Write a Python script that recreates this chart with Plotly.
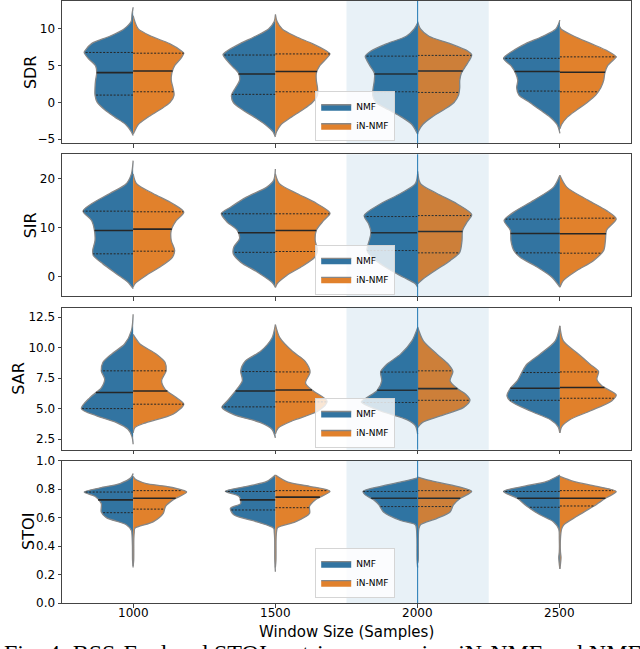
import numpy as np
import plotly.graph_objects as go
from plotly.subplots import make_subplots

WINDOWS = ["1000", "1500", "2000", "2500"]
METRICS = ["SDR", "SIR", "SAR", "STOI"]
METHODS = ["NMF", "iN-NMF"]

# violin outlines: (metric value, relative density)
SDR_NMF = [
    [(12.95, 0), (12, 0.02), (11, 0.035), (10, 0.16), (9, 0.41), (8, 0.73), (7, 0.85), (6.8, 0.86), (6, 0.79),
     (5, 0.66), (4, 0.64), (3, 0.66), (2, 0.67), (1, 0.67), (0, 0.63), (-1, 0.5), (-2, 0.32), (-3, 0.13),
     (-4, 0.03), (-4.5, 0)],
    [(11.9, 0), (11, 0.02), (10, 0.12), (9, 0.35), (8, 0.62), (7, 0.85), (6.5, 0.92), (6, 0.88), (5, 0.77),
     (4, 0.65), (3, 0.63), (2, 0.7), (1, 0.77), (0, 0.74), (-1, 0.58), (-2, 0.37), (-3, 0.18), (-4, 0.04),
     (-4.7, 0)],
    [(10.8, 0), (10, 0.06), (9, 0.2), (8, 0.54), (7, 0.82), (6.3, 0.92), (6, 0.91), (5, 0.84), (4, 0.76),
     (3, 0.76), (2, 0.78), (1, 0.79), (0, 0.73), (-1, 0.51), (-2, 0.28), (-3, 0.1), (-4, 0.02), (-4.3, 0)],
    [(11.2, 0), (10, 0.07), (9, 0.3), (8, 0.6), (7, 0.83), (6, 0.99), (5, 0.86), (4, 0.78), (3, 0.74),
     (2, 0.76), (1, 0.72), (0, 0.53), (-1, 0.35), (-2, 0.17), (-3, 0.05), (-4, 0.005), (-4.2, 0)],
]
SDR_INNMF = [
    [(11.8, 0), (11, 0.03), (10, 0.09), (9, 0.32), (8, 0.64), (7, 0.85), (6.7, 0.89), (6, 0.84), (5, 0.73),
     (4, 0.68), (3, 0.67), (2, 0.7), (1, 0.72), (0, 0.65), (-1, 0.47), (-2, 0.26), (-3, 0.09), (-4, 0.02),
     (-4.3, 0)],
    [(12, 0), (11, 0.03), (10, 0.12), (9, 0.35), (8, 0.65), (7, 0.9), (6.6, 0.96), (6, 0.9), (5, 0.78),
     (4, 0.72), (3, 0.72), (2, 0.74), (1, 0.74), (0, 0.65), (-1, 0.48), (-2, 0.28), (-3, 0.1), (-4, 0.02),
     (-4.5, 0)],
    [(11, 0), (10, 0.05), (9, 0.2), (8, 0.57), (7, 0.88), (6.5, 0.95), (6, 0.93), (5, 0.85), (4, 0.77),
     (3, 0.74), (2, 0.74), (1, 0.72), (0, 0.64), (-1, 0.46), (-2, 0.25), (-3, 0.09), (-4, 0.01), (-4.3, 0)],
    [(10.3, 0), (10, 0.02), (9, 0.25), (8, 0.55), (7, 0.84), (6.2, 0.99), (6, 0.97), (5, 0.84), (4, 0.79),
     (3, 0.77), (2, 0.72), (1, 0.63), (0, 0.48), (-1, 0.3), (-2, 0.13), (-3, 0.03), (-3.6, 0)],
]
SDR_NMF_Q = [(1.0, 4.05, 6.8), (1.1, 3.86, 6.45), (1.45, 3.86, 6.3), (1.55, 4.2, 6.0)]
SDR_INNMF_Q = [(1.45, 4.27, 6.7), (1.45, 4.2, 6.6), (1.36, 4.27, 6.4), (1.45, 4.1, 6.2)]

SIR_NMF = [
    [(23.7, 0), (21, 0.03), (19, 0.12), (17, 0.41), (14.9, 0.73), (13.4, 0.88), (11.5, 0.73), (9.5, 0.68),
     (7.4, 0.67), (5.4, 0.71), (4.35, 0.7), (2.65, 0.53), (0.6, 0.29), (-1.1, 0.09), (-2.4, 0)],
    [(22, 0), (19.7, 0.03), (18.3, 0.15), (16.3, 0.5), (14.2, 0.79), (12.9, 0.95), (11.2, 0.85), (9.5, 0.67),
     (7.8, 0.63), (6.1, 0.73), (4.7, 0.74), (3.0, 0.61), (1.0, 0.32), (-1.1, 0.06), (-2.1, 0)],
    [(21, 0), (19, 0.04), (17, 0.3), (14.9, 0.65), (12.5, 0.94), (10.8, 0.86), (9.1, 0.82), (7.4, 0.85),
     (5.4, 0.89), (4.0, 0.8), (2.0, 0.57), (-0.07, 0.25), (-1.4, 0.04), (-2.1, 0)],
    [(20.7, 0), (18.3, 0.11), (15.6, 0.46), (13.2, 0.81), (11.5, 0.98), (9.5, 0.87), (7.4, 0.86), (5.4, 0.81),
     (4.0, 0.7), (2.0, 0.4), (-0.07, 0.14), (-2.1, 0)],
]
SIR_INNMF = [
    [(21, 0), (19, 0.06), (17, 0.35), (14.9, 0.7), (13.2, 0.89), (11.5, 0.76), (9.5, 0.67), (7.4, 0.67),
     (5.4, 0.73), (4.0, 0.69), (2.0, 0.47), (0.3, 0.23), (-1.4, 0.03), (-2.1, 0)],
    [(21, 0), (19, 0.07), (17, 0.38), (15, 0.72), (13, 0.96), (11.5, 0.85), (9.5, 0.72), (7.4, 0.7),
     (5.4, 0.74), (4.0, 0.69), (2.0, 0.45), (0.3, 0.2), (-1.4, 0.03), (-2.2, 0)],
    [(21.5, 0), (19, 0.05), (17, 0.34), (14.9, 0.69), (12.7, 0.95), (11.2, 0.87), (9.5, 0.79), (7.4, 0.78),
     (5.0, 0.74), (3.3, 0.57), (1.3, 0.31), (-0.4, 0.1), (-1.4, 0)],
    [(20.7, 0), (18.3, 0.12), (15.6, 0.5), (13.5, 0.82), (11.8, 0.99), (9.5, 0.82), (7.4, 0.8), (5.4, 0.77),
     (3.3, 0.59), (1.3, 0.3), (-0.75, 0.06), (-2.1, 0)],
]
SIR_NMF_Q = [(4.7, 9.46, 13.4), (5.0, 8.98, 12.86), (5.37, 8.98, 12.3), (4.9, 8.84, 11.77)]
SIR_INNMF_Q = [(5.24, 9.73, 13.27), (5.17, 9.46, 12.86), (4.9, 9.25, 12.5), (4.83, 8.78, 11.97)]

SAR_NMF = [
    [(12.75, 0), (11.4, 0.03), (10.3, 0.15), (9.47, 0.38), (8.8, 0.53), (8.1, 0.56), (7.4, 0.5), (6.7, 0.56),
     (5.9, 0.76), (5.0, 0.91), (4.4, 0.64), (3.85, 0.29), (3.3, 0.09), (2.7, 0.02), (2.07, 0)],
    [(11.9, 0), (10.8, 0.06), (9.7, 0.26), (8.9, 0.53), (8.1, 0.61), (7.3, 0.58), (6.45, 0.7), (5.6, 0.85),
     (5.1, 0.94), (4.5, 0.73), (3.85, 0.26), (3.3, 0.06), (2.6, 0)],
    [(11.65, 0), (10.56, 0.1), (9.47, 0.3), (8.64, 0.54), (8.0, 0.65), (7.27, 0.63), (6.5, 0.71), (5.9, 0.89),
     (5.55, 0.99), (4.8, 0.65), (4.1, 0.19), (3.6, 0.04), (2.9, 0)],
    [(11.8, 0), (10.56, 0.08), (9.47, 0.35), (8.64, 0.58), (7.96, 0.67), (7.27, 0.75), (6.67, 0.87),
     (6.04, 0.93), (5.63, 0.87), (4.8, 0.52), (4.1, 0.17), (3.5, 0.03), (3.0, 0)],
]
SAR_INNMF = [
    [(11.1, 0), (10.8, 0.04), (10.3, 0.12), (9.47, 0.41), (8.8, 0.56), (8.1, 0.58), (7.3, 0.5), (6.6, 0.56),
     (5.9, 0.76), (5.36, 0.89), (4.53, 0.7), (3.85, 0.23), (3.44, 0.03), (3.0, 0)],
    [(11.9, 0), (10.8, 0.08), (9.7, 0.3), (8.9, 0.52), (8.0, 0.61), (7.1, 0.53), (6.5, 0.65), (5.6, 0.91),
     (4.8, 0.75), (4.0, 0.3), (3.4, 0.05), (2.9, 0)],
    [(11.7, 0), (10.56, 0.1), (9.47, 0.34), (8.64, 0.54), (8.04, 0.62), (7.27, 0.57), (6.67, 0.69),
     (6.2, 0.84), (5.7, 0.92), (5.1, 0.81), (4.4, 0.4), (3.85, 0.08), (3.44, 0)],
    [(11.8, 0), (10.56, 0.06), (9.47, 0.33), (8.64, 0.53), (8.04, 0.68), (7.4, 0.65), (6.86, 0.74),
     (6.12, 0.99), (5.63, 0.91), (4.8, 0.53), (4.1, 0.18), (3.5, 0.03), (3.0, 0)],
]
SAR_NMF_Q = [(5.0, 6.32, 8.1), (5.14, 6.45, 8.04), (5.5, 6.5, 8.0), (5.68, 6.67, 7.96)]
SAR_INNMF_Q = [(5.36, 6.45, 8.1), (5.55, 6.53, 8.01), (5.68, 6.64, 8.1), (5.85, 6.73, 8.01)]

STOI_NMF = [
    [(0.25, 0), (0.3, 0.01), (0.4, 0.012), (0.48, 0.02), (0.51, 0.03), (0.55, 0.12), (0.6, 0.47),
     (0.64, 0.56), (0.7, 0.56), (0.75, 0.67), (0.78, 0.86), (0.81, 0.58), (0.84, 0.23), (0.88, 0.04),
     (0.91, 0)],
    [(0.22, 0), (0.3, 0.01), (0.45, 0.012), (0.5, 0.02), (0.525, 0.03), (0.57, 0.32), (0.62, 0.73),
     (0.665, 0.79), (0.7, 0.61), (0.75, 0.64), (0.785, 0.88), (0.82, 0.5), (0.855, 0.15), (0.9, 0)],
    [(0.25, 0), (0.3, 0.01), (0.45, 0.012), (0.52, 0.02), (0.55, 0.04), (0.58, 0.3), (0.64, 0.6),
     (0.69, 0.68), (0.725, 0.77), (0.76, 0.92), (0.784, 0.96), (0.82, 0.65), (0.855, 0.25), (0.88, 0)],
    [(0.24, 0), (0.28, 0.012), (0.32, 0.02), (0.36, 0.01), (0.45, 0.01), (0.52, 0.02), (0.57, 0.11),
     (0.62, 0.35), (0.68, 0.58), (0.736, 0.75), (0.784, 0.99), (0.82, 0.64), (0.855, 0.23), (0.9, 0)],
]
STOI_INNMF = [
    [(0.26, 0), (0.3, 0.01), (0.45, 0.012), (0.5, 0.02), (0.525, 0.03), (0.57, 0.35), (0.63, 0.53),
     (0.68, 0.57), (0.725, 0.7), (0.78, 0.94), (0.82, 0.58), (0.84, 0.23), (0.87, 0.04), (0.89, 0)],
    [(0.25, 0), (0.3, 0.01), (0.45, 0.012), (0.5, 0.02), (0.53, 0.04), (0.57, 0.35), (0.63, 0.6),
     (0.68, 0.6), (0.725, 0.7), (0.785, 0.96), (0.82, 0.6), (0.85, 0.22), (0.9, 0)],
    [(0.28, 0), (0.3, 0.01), (0.45, 0.012), (0.52, 0.02), (0.55, 0.05), (0.595, 0.34), (0.64, 0.57),
     (0.69, 0.63), (0.736, 0.75), (0.784, 0.95), (0.82, 0.69), (0.855, 0.28), (0.885, 0)],
    [(0.24, 0), (0.28, 0.012), (0.32, 0.02), (0.36, 0.01), (0.45, 0.01), (0.52, 0.03), (0.55, 0.07),
     (0.61, 0.3), (0.68, 0.59), (0.736, 0.8), (0.784, 0.99), (0.82, 0.65), (0.855, 0.24), (0.89, 0)],
]
STOI_NMF_Q = [(0.635, 0.725, 0.78), (0.654, 0.725, 0.784), (0.678, 0.736, 0.784), (0.673, 0.736, 0.784)]
STOI_INNMF_Q = [(0.66, 0.736, 0.79), (0.67, 0.744, 0.79), (0.678, 0.736, 0.79), (0.682, 0.736, 0.79)]

Y_RANGES = [[-5.55, 13.8], [-4.0, 25.0], [1.62, 13.3], [0.0, 1.0]]
Y_TICKS = [[-5, 0, 5, 10], [0, 10, 20], [2.5, 5.0, 7.5, 10.0, 12.5], [0.0, 0.2, 0.4, 0.6, 0.8, 1.0]]
Y_TICKTEXT = [["\u22125", "0", "5", "10"], ["0", "10", "20"],
              ["2.5", "5.0", "7.5", "10.0", "12.5"], ["0.0", "0.2", "0.4", "0.6", "0.8", "1.0"]]

profiles = {
    "SDR": (SDR_NMF, SDR_INNMF, SDR_NMF_Q, SDR_INNMF_Q),
    "SIR": (SIR_NMF, SIR_INNMF, SIR_NMF_Q, SIR_INNMF_Q),
    "SAR": (SAR_NMF, SAR_INNMF, SAR_NMF_Q, SAR_INNMF_Q),
    "STOI": (STOI_NMF, STOI_INNMF, STOI_NMF_Q, STOI_INNMF_Q),
}

colors = ["#3274a1", "#e1812c"]
edge = "rgb(135,135,135)"
inner = "#262626"
half = 0.4
legend_y = [0.767, 0.512, 0.2575, 0.008]
title_x = [30, 30, 19, 29]  # px from left edge for the y titles

fig = make_subplots(rows=4, cols=1, vertical_spacing=0.0183)

for r, metric in enumerate(METRICS):
    row = r + 1
    lname = "legend" if r == 0 else "legend%d" % (r + 1)
    nmf, innmf, nmf_q, innmf_q = profiles[metric]
    for side, (outlines, quarts) in enumerate([(nmf, nmf_q), (innmf, innmf_q)]):
        sign = -1 if side == 0 else 1
        for i, pts in enumerate(outlines):
            pts = sorted(pts)
            ys = np.array([p[0] for p in pts])
            ds = np.array([p[1] for p in pts])
            fig.add_trace(
                go.Scatter(
                    x=i + sign * ds * half,
                    y=ys,
                    mode="lines",
                    fill="toself",
                    fillcolor=colors[side],
                    line=dict(color=edge, width=1.3, shape="spline", smoothing=0.8),
                    name=METHODS[side],
                    legend=lname,
                    legendgroup="%s-%d" % (metric, side),
                    showlegend=(i == 0),
                    hoverinfo="skip",
                ),
                row=row,
                col=1,
            )
            for k, q in enumerate(quarts[i]):
                w = np.interp(q, ys, ds) * half
                fig.add_trace(
                    go.Scatter(
                        x=[i, i + sign * w],
                        y=[q, q],
                        mode="lines",
                        line=dict(color=inner, width=1.6 if k == 1 else 1.0,
                                  dash="solid" if k == 1 else "2px,1.5px"),
                        showlegend=False,
                        hoverinfo="skip",
                    ),
                    row=row,
                    col=1,
                )

    yref = "y domain" if r == 0 else "y%d domain" % (r + 1)
    xref = "x" if r == 0 else "x%d" % (r + 1)
    fig.add_shape(type="rect", x0=1.5, x1=2.5, y0=0, y1=1, xref=xref, yref=yref,
                  fillcolor="rgba(31,119,180,0.1)", line_width=0, layer="above")
    fig.add_shape(type="line", x0=2, x1=2, y0=0, y1=1, xref=xref, yref=yref,
                  line=dict(color="#1f77b4", width=1), layer="above")

    fig.update_yaxes(range=Y_RANGES[r], tickvals=Y_TICKS[r], ticktext=Y_TICKTEXT[r], row=row, col=1)
    fig.update_xaxes(
        range=[-0.5, 3.5], tickvals=[0, 1, 2, 3], showticklabels=False, row=row, col=1,
    )
    # y title placed by hand so it sits where the reference has it
    dom = fig.layout["yaxis" if r == 0 else "yaxis%d" % (r + 1)].domain
    fig.add_annotation(
        text=metric, textangle=-90, xref="paper", yref="paper",
        x=(title_x[r] - 62) / 569, y=(dom[0] + dom[1]) / 2,
        xanchor="center", yanchor="middle", showarrow=False,
        font=dict(size=16, color="black"),
    )
    fig.update_layout({
        lname: dict(
            x=0.445, y=legend_y[r], xanchor="left", yanchor="bottom",
            bgcolor="rgba(255,255,255,0.8)", bordercolor="#d5d5d5", borderwidth=1,
            font=dict(family="DejaVu Sans", size=9, color="black"),
            itemwidth=30, tracegroupgap=0,
        )
    })

# x tick labels of the bottom panel, tucked closer to the axis than plotly's default
for i, w in enumerate(WINDOWS):
    fig.add_annotation(
        text=w, xref="x4", yref="paper", x=i, y=(603 - 612.5) / 602,
        xanchor="center", yanchor="middle", showarrow=False, font=dict(size=12, color="black"),
    )

fig.update_xaxes(
    showline=True, mirror=True, linecolor="#444", linewidth=1, showgrid=False, zeroline=False,
    ticks="outside", ticklen=3.5, tickcolor="#444", automargin=False,
)
fig.update_yaxes(
    showline=True, mirror=True, linecolor="#444", linewidth=1, showgrid=False, zeroline=False,
    ticks="outside", ticklen=3.5, tickcolor="#444", tickfont=dict(size=12, color="black"),
    automargin=False,
)

fig.add_annotation(
    text="Window Size (Samples)", xref="paper", yref="paper", x=0.5, y=(603 - 632) / 602,
    xanchor="center", yanchor="middle", showarrow=False, font=dict(size=15, color="black"),
)
fig.add_annotation(
    text="Fig. 4: BSS-Eval and STOI metrics comparing iN-NMF and NMF",
    xref="paper", yref="paper", x=-0.106, y=(603 - 638) / 602, xanchor="left", yanchor="top",
    showarrow=False, font=dict(family="Liberation Serif", size=24, color="black"),
)

fig.update_layout(
    width=640, height=649,
    margin=dict(l=62, r=9, t=1, b=46),
    plot_bgcolor="white", paper_bgcolor="white",
    font=dict(family="DejaVu Sans", color="black"),
)

fig.write_html("out.html", config={"displayModeBar": False},
               post_script="document.body.style.margin = '0';")
